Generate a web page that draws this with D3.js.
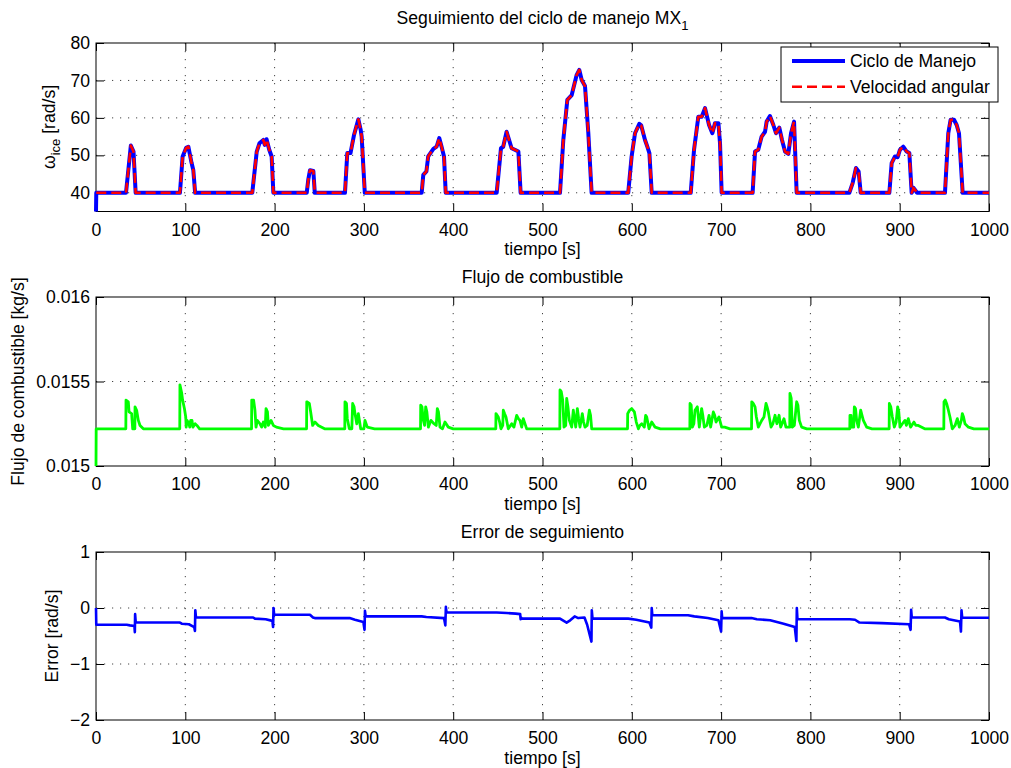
<!DOCTYPE html>
<meta charset="utf-8">
<style>
  body { margin: 0; background: #fff; }
  svg text { font-family: "Liberation Sans", Arial, sans-serif; fill: #000; }
  .tick line { stroke: #000; }
  .grid line { stroke: #444; stroke-width: 1; stroke-dasharray: 1.2,6.8; }
</style>
<div class="chart"></div>
<script src="https://cdn.jsdelivr.net/npm/d3@7"></script>
<script>
// ---- data ----
// [tiempo s, omega rad/s]
var ciclo = [
  [0,35],[0.3,40],
  [33.6,40],[39,52.6],[42,51],[44.4,40],
  [94,40],[97,49.7],[101,52],[103.4,52.3],[107,48],[109,46],[111,40],
  [175,40],[180,51],[183,53.2],[187.4,54.1],[189,52.8],[191,54.3],[194,51.5],[196.7,49.7],[198.6,40],
  [236,40],[237.7,43.5],[239.6,46],[243.4,45.8],[245,40],
  [278.8,40],[281.4,50.6],[285,50.6],[289,55.5],[293.8,59.6],[296.4,56.8],[297.5,55],[301,40],
  [364.7,40],[366.5,44.8],[370,45.7],[372,49.7],[377.8,51.7],[381.4,52.3],[384.4,54.6],[387,52.3],[389.7,49.7],[391.6,40],
  [448.7,40],[453.5,51.9],[456,52.3],[459.8,56.3],[465.4,51.9],[469,51.5],[473,51],[475.5,40],
  [519.6,40],[523.3,54.1],[527.8,64.8],[532.7,66.1],[538.3,71.5],[541.2,72.8],[543.9,70.1],[547.6,68.5],[551.3,56],[555,40],
  [596,40],[599.8,49.7],[603.6,55.9],[608.4,58.4],[610.5,58],[614.8,54.1],[617.4,52.3],[619.7,50.6],[622.3,40],
  [666,40],[669.7,51.5],[674.5,60.3],[678.3,60.3],[682,62.6],[686.5,58.1],[690.2,55.9],[693.2,58.6],[697,58.6],[698.8,53.2],[700.6,40],
  [735.3,40],[738,51],[741.6,51.5],[745.4,55],[749.2,56.3],[751,59],[754.7,60.5],[758.5,58.1],[761.5,55.9],[765.2,57.4],[768.2,54.1],[771.6,51],[775.3,50.4],[778.3,55.9],[781.7,59],[784.6,40],
  [843.6,40],[847.3,42.6],[851,46.6],[854,45.7],[856.3,40],
  [888.4,40],[891,47.9],[894.7,49.7],[897.7,49.5],[900.3,51.5],[904,52.3],[907.8,51],[910.8,50.6],[913.4,40],[915.5,41.3],[919.5,40],
  [950.7,40],[954.4,55.9],[957,59.5],[960.8,59.5],[963.8,58.1],[966.4,55.9],[970.5,40],
  [1000,40]
];
// velocidad angular sits on top of the cycle, only without the start at 35
var velocidad = ciclo.slice(1);

// [tiempo s, flujo kg/s]
var flujo = [
  [0,0.015],[0.2,0.01522],
  [33.4,0.01522],[33.6,0.01539],[36.2,0.01538],[37,0.01532],[39.9,0.01531],[41.1,0.01522],[43.5,0.01522],[43.7,0.01535],[45.5,0.01533],[47.4,0.01527],[49.3,0.01524],[53,0.01522],
  [93.8,0.01522],[94,0.01548],[96,0.01543],[97,0.01539],[99,0.01534],[100.5,0.01529],[101,0.01523],[102,0.01527],[104,0.01525],[105,0.01523],[106,0.01527],[107.5,0.01527],[108.5,0.01523],[111,0.01525],[113,0.01524],[116,0.01522],
  [174.2,0.01522],[174.4,0.01539],[176.5,0.01539],[178,0.01533],[179.2,0.01523],[180.6,0.01527],[183.6,0.01525],[185.5,0.01523],[187.4,0.01526],[189.5,0.01523],[190.4,0.01534],[192,0.01532],[193,0.01524],[196,0.01527],[198.6,0.01524],[202,0.01523],[210,0.01522],
  [235.8,0.01522],[236,0.01538],[238.9,0.01537],[240.4,0.01532],[242.6,0.01524],[245.2,0.01526],[248.9,0.01524],[256,0.01522],
  [278.6,0.01522],[278.8,0.01538],[280.5,0.01537],[281.4,0.01528],[283.7,0.01522],[286.5,0.01522],[287.4,0.01537],[289,0.01535],[290,0.01531],[292,0.01525],[293.8,0.01531],[296.4,0.01522],[300,0.01522],[301.2,0.01527],[303.8,0.01523],[312,0.01522],
  [363.4,0.01522],[363.6,0.01536],[365,0.01535],[366.6,0.01527],[368,0.01524],[369.2,0.01535],[370.5,0.01532],[372.2,0.01523],[375.1,0.01527],[378.5,0.01525],[381,0.01524],[382.2,0.01534],[383.5,0.01532],[385.2,0.01523],[388,0.01522],[390.8,0.01526],[394.5,0.01523],[400,0.01522],
  [447.7,0.01522],[447.9,0.01531],[450.5,0.01529],[452,0.01526],[453.5,0.01522],[455.5,0.01524],[456.1,0.01533],[457.5,0.01531],[459.1,0.01529],[461.7,0.01522],[465.5,0.01525],[468,0.01523],[471.1,0.0153],[473,0.01528],[474.8,0.01527],[476.7,0.01523],[478.5,0.01528],[482.3,0.01522],[488,0.01522],
  [519.4,0.01522],[519.6,0.01545],[521,0.01544],[522.6,0.01539],[524.1,0.01523],[526,0.01524],[527.1,0.0154],[528.5,0.01535],[530.1,0.01527],[532.7,0.01523],[534.5,0.01533],[535.8,0.01528],[537.2,0.01523],[539,0.01534],[540.5,0.01528],[542,0.01523],[544.6,0.01531],[546,0.01526],[547.6,0.01523],[550,0.01524],[552.5,0.01533],[553.8,0.0153],[555.1,0.01522],[561,0.01522],
  [595.2,0.01522],[595.4,0.01531],[597.5,0.01533],[599.9,0.01534],[602.9,0.01532],[605,0.01526],[607.4,0.01522],[609,0.01524],[611.1,0.01525],[614,0.01523],[615.5,0.0153],[616.7,0.01529],[619.3,0.01522],[622.3,0.01526],[626,0.01523],[632,0.01522],
  [665,0.01522],[665.2,0.01537],[666.5,0.01536],[667.8,0.01523],[669.5,0.01525],[670.8,0.01533],[673.4,0.01535],[675.6,0.01523],[678.2,0.01534],[679.5,0.0153],[681.2,0.01523],[684,0.01524],[686.5,0.0153],[688.3,0.01523],[691.3,0.01532],[692.8,0.0153],[694.3,0.01526],[697.6,0.01529],[700.6,0.01523],[704,0.01523],[710,0.01522],
  [734.1,0.01522],[734.3,0.01538],[736,0.01537],[738,0.01535],[739.5,0.01529],[741.7,0.01523],[745.5,0.01527],[748,0.01529],[750.3,0.01537],[751.5,0.01535],[752.9,0.01532],[755.9,0.01523],[758,0.01525],[760.4,0.0153],[762.5,0.01525],[764.9,0.0153],[766.7,0.01523],[770.4,0.01528],[772.6,0.01523],[776.9,0.01523],[777.1,0.01543],[778.5,0.0154],[779.7,0.01523],[782,0.01524],[784.6,0.01538],[786,0.01536],[787.6,0.01527],[790.2,0.01523],[796,0.01522],
  [844.1,0.01522],[844.3,0.0153],[845.5,0.0153],[846.2,0.01523],[848.5,0.01523],[849.2,0.01535],[850.5,0.01534],[851.8,0.01527],[853.7,0.01523],[856.3,0.01533],[857.8,0.0153],[859.3,0.01527],[863,0.01523],[869,0.01522],
  [888.2,0.01522],[888.4,0.01537],[890,0.01535],[891.8,0.01529],[894,0.01523],[896,0.01526],[897.7,0.01535],[899,0.01532],[900.3,0.01523],[903,0.01525],[905.9,0.01527],[907.5,0.01524],[909.6,0.01528],[912.2,0.01523],[916,0.01526],[918,0.01524],[920.8,0.01524],[928,0.01522],
  [949.4,0.01522],[949.6,0.01538],[951,0.01539],[952.5,0.01537],[954.5,0.01533],[956.3,0.01529],[958.9,0.01522],[962,0.01524],[964.5,0.01528],[966.8,0.01523],[969,0.01527],[970.1,0.01531],[971.5,0.01529],[973.1,0.01525],[977,0.01523],[983,0.01522],[1000,0.01522]
];

// [tiempo s, error rad/s]
var errorSeg = [
  [0,0],[0.3,-0.3],[34.4,-0.3],[38,-0.31],[43,-0.32],[43.5,-0.43],[43.8,-0.11],[44.5,-0.26],
  [94,-0.26],[96,-0.28],[104,-0.29],[110,-0.34],[110.8,-0.41],[111.2,-0.04],[112,-0.17],
  [176,-0.17],[178,-0.19],[190,-0.2],[197.5,-0.23],[198.3,-0.34],[198.8,0],[199.5,-0.12],
  [239.6,-0.12],[243,-0.17],[245,-0.18],[284,-0.18],[290,-0.21],[299.4,-0.25],[300.7,-0.39],[301.2,-0.05],[302,-0.15],
  [364.7,-0.15],[370,-0.16],[389.7,-0.18],[391.2,-0.31],[391.8,0.02],[392.5,-0.08],
  [448.7,-0.08],[460,-0.09],[470,-0.1],[475,-0.11],[475.5,-0.2],[476,-0.17],[477,-0.19],
  [519.6,-0.19],[527,-0.26],[531,-0.22],[536,-0.15],[540,-0.18],[547,-0.17],[550,-0.3],[554.8,-0.6],[555.2,-0.04],[556,-0.19],
  [596,-0.19],[605,-0.21],[619.7,-0.26],[621.8,-0.35],[622.3,0],[623,-0.13],
  [663,-0.13],[670,-0.15],[685,-0.18],[697,-0.22],[700,-0.42],[700.6,-0.06],[701.2,-0.18],
  [734,-0.18],[740,-0.2],[755,-0.22],[770,-0.28],[782.5,-0.34],[784.3,-0.59],[784.8,0],[785.5,-0.2],
  [844,-0.2],[850,-0.21],[855,-0.26],[880,-0.27],[910.5,-0.29],[912.2,-0.39],[912.8,-0.03],[913.5,-0.17],
  [950.7,-0.17],[955,-0.2],[967.5,-0.24],[968.6,-0.42],[969.2,-0.04],[970,-0.175],[1000,-0.175]
];

var xTicks = [0,100,200,300,400,500,600,700,800,900,1000];
var yTicksW = [40,50,60,70,80];
var yTicksF = [0.015,0.0155,0.016];
var yTicksE = [-2,-1,0,1];

// ---- layout ----
var W = 1011, H = 768, left = 96, right = 989, fs = 17.6;
var svg = d3.select(".chart").append("svg").attr("width", W).attr("height", H);

var x = d3.scaleLinear().domain([0,1000]).range([left, right]);

function panel(top, bottom, ydom, yticks, yfmt) {
  var y = d3.scaleLinear().domain(ydom).range([bottom, top]);
  var g = svg.append("g");
  var h = bottom - top;

  // grid
  var grid = g.append("g").attr("class", "grid");
  grid.selectAll(".gx").data(xTicks.slice(1, -1)).enter().append("line")
    .attr("x1", x).attr("x2", x).attr("y1", top).attr("y2", bottom);
  grid.selectAll(".gy").data(yticks.filter(function(d){ return d > ydom[0] && d < ydom[1]; }))
    .enter().append("line")
    .attr("x1", left).attr("x2", right).attr("y1", y).attr("y2", y);

  // ticks on all four sides, pointing inward
  g.append("g").attr("transform", "translate(0," + bottom + ")")
    .call(d3.axisBottom(x).tickValues(xTicks).tickSize(-8).tickPadding(11.6).tickFormat(d3.format("d")))
    .call(function(a){ a.select(".domain").remove(); a.selectAll("text").attr("font-size", fs); });
  g.append("g").attr("transform", "translate(0," + top + ")")
    .call(d3.axisTop(x).tickValues(xTicks).tickSize(-8).tickFormat(""))
    .call(function(a){ a.select(".domain").remove(); });
  g.append("g").attr("transform", "translate(" + left + ",0)")
    .call(d3.axisLeft(y).tickValues(yticks).tickSize(-8).tickPadding(6).tickFormat(yfmt))
    .call(function(a){ a.select(".domain").remove(); a.selectAll("text").attr("font-size", fs); });
  g.append("g").attr("transform", "translate(" + right + ",0)")
    .call(d3.axisRight(y).tickValues(yticks).tickSize(-8).tickFormat(""))
    .call(function(a){ a.select(".domain").remove(); });

  g.append("rect").attr("x", left).attr("y", top).attr("width", right - left).attr("height", h)
    .attr("fill", "none").attr("stroke", "#000").attr("stroke-width", 1);

  // x label
  g.append("text").attr("x", (left + right) / 2).attr("y", bottom + 43.5)
    .attr("text-anchor", "middle").attr("font-size", fs).text("tiempo [s]");
  return { g: g, y: y };
}

function drawLine(p, data, color, width, dash) {
  var line = d3.line().x(function(d){ return x(d[0]); }).y(function(d){ return p.y(d[1]); });
  p.g.append("path").datum(data).attr("d", line)
    .attr("fill", "none").attr("stroke", color).attr("stroke-width", width)
    .attr("stroke-linejoin", "round")
    .attr("stroke-dasharray", dash || null);
}

// ---- panel 1: seguimiento del ciclo ----
var p1 = panel(43, 211.5, [35,80], yTicksW, d3.format("d"));
drawLine(p1, ciclo, "#0000ff", 4);
drawLine(p1, velocidad, "#ff0000", 2.6, "10,5");

var t1 = svg.append("text").attr("x", (left + right) / 2).attr("y", 24)
  .attr("text-anchor", "middle").attr("font-size", fs);
t1.append("tspan").text("Seguimiento del ciclo de manejo MX");
t1.append("tspan").attr("font-size", 13).attr("dy", 6).text("1");

var yl1 = svg.append("text").attr("transform", "translate(55," + 127 + ") rotate(-90)")
  .attr("text-anchor", "middle").attr("font-size", fs);
yl1.append("tspan").text("\u03c9");
yl1.append("tspan").attr("font-size", 13).attr("dy", 5).text("ice");
yl1.append("tspan").attr("dy", -5).text(" [rad/s]");

// legend
var lg = svg.append("g");
lg.append("rect").attr("x", 781).attr("y", 47).attr("width", 217).attr("height", 55)
  .attr("fill", "#fff").attr("stroke", "#000").attr("stroke-width", 1);
var legItems = [
  { label: "Ciclo de Manejo", color: "#0000ff", w: 4, dash: null },
  { label: "Velocidad angular", color: "#ff0000", w: 2.6, dash: "10,5" }
];
legItems.forEach(function(it, i) {
  var yy = 61 + i * 25.7;
  lg.append("line").attr("x1", 792).attr("x2", 845).attr("y1", yy).attr("y2", yy)
    .attr("stroke", it.color).attr("stroke-width", it.w).attr("stroke-dasharray", it.dash);
  lg.append("text").attr("x", 850).attr("y", yy + 6.3).attr("font-size", fs).text(it.label);
});

// ---- panel 2: flujo de combustible ----
var p2 = panel(297, 466, [0.015,0.016], yTicksF, function(d){ return String(+d.toFixed(4)); });
drawLine(p2, flujo, "#00ff00", 2.8);
svg.append("text").attr("x", (left + right) / 2).attr("y", 283)
  .attr("text-anchor", "middle").attr("font-size", fs).text("Flujo de combustible");
svg.append("text").attr("transform", "translate(24,381.5) rotate(-90)")
  .attr("text-anchor", "middle").attr("font-size", fs).text("Flujo de combustible [kg/s]");

// ---- panel 3: error de seguimiento ----
var p3 = panel(552, 720, [-2,1], yTicksE, d3.format("d"));
drawLine(p3, errorSeg, "#0000ff", 2.6);
svg.append("text").attr("x", (left + right) / 2).attr("y", 538)
  .attr("text-anchor", "middle").attr("font-size", fs).text("Error de seguimiento");
svg.append("text").attr("transform", "translate(58,636) rotate(-90)")
  .attr("text-anchor", "middle").attr("font-size", fs).text("Error [rad/s]");
</script>
